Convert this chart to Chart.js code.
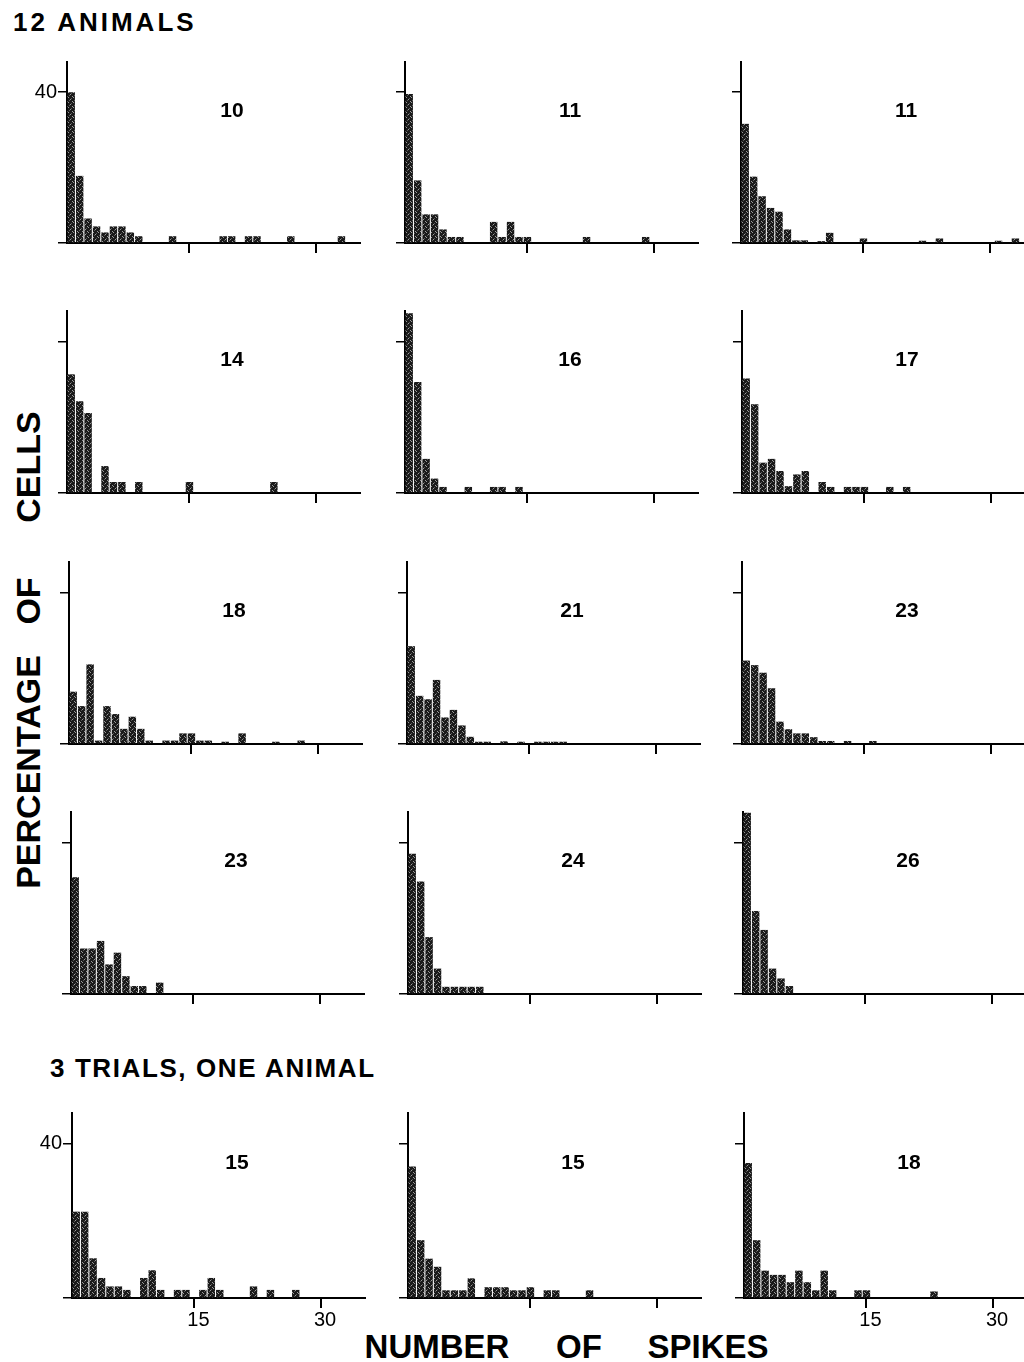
<!DOCTYPE html>
<html>
<head>
<meta charset="utf-8">
<script src="https://cdn.jsdelivr.net/npm/chart.js@4.4.1/dist/chart.umd.min.js"></script>
<style>
  html, body { margin: 0; padding: 0; background: #fff; }
  body { width: 1024px; height: 1362px; position: relative; overflow: hidden;
         font-family: "Liberation Sans", Arial, sans-serif; color: #000; }
  canvas { position: absolute; }
  .head { position: absolute; font-weight: bold; font-size: 26px;
          white-space: nowrap; line-height: 1; transform: translateY(-50%); }
  .word { position: absolute; font-weight: bold; font-size: 33px; white-space: nowrap; line-height: 1; }
  .vert { transform: translate(-50%, -50%) rotate(-90deg); font-size: 34px; }
  .horz { transform: translate(-50%, -50%); }
</style>
</head>
<body>
<div class="head" style="left:13px; top:22px; letter-spacing:3px">12 ANIMALS</div>
<div class="head" style="left:50px; top:1068px; letter-spacing:1.6px">3 TRIALS, ONE ANIMAL</div>

<div class="word vert" style="left:28px; top:772px">PERCENTAGE</div>
<div class="word vert" style="left:28px; top:601px">OF</div>
<div class="word vert" style="left:28px; top:467px">CELLS</div>

<div class="word horz" style="left:437px; top:1346px">NUMBER</div>
<div class="word horz" style="left:579px; top:1346px">OF</div>
<div class="word horz" style="left:708px; top:1346px">SPIKES</div>

<script>
// number of spikes per cell (bin), 1..35
const spikeCounts = [1, 2, 3, 4, 5, 6, 7, 8, 9, 10, 11, 12, 13, 14, 15, 16, 17, 18, 19, 20,
  21, 22, 23, 24, 25, 26, 27, 28, 29, 30, 31, 32, 33, 34, 35];

// percentage of cells, 12 animals
const animals10 = [40, 17.8, 6.5, 4.4, 2.8, 4.4, 4.4, 2.8, 1.8, 0,
  0, 0, 1.8, 0, 0, 0, 0, 0, 1.8, 1.8,
  0, 1.8, 1.8, 0, 0, 0, 1.8, 0, 0, 0,
  0, 0, 1.8, 0, 0];
const animals11a = [39.5, 16.6, 7.6, 7.6, 3.6, 1.6, 1.6, 0, 0, 0,
  5.6, 1.6, 5.6, 1.6, 1.6, 0, 0, 0, 0, 0,
  0, 1.6, 0, 0, 0, 0, 0, 0, 1.6, 0,
  0, 0, 0, 0, 0];
const animals11b = [31.6, 17.6, 12.4, 9.3, 8.3, 3.6, 0.7, 0.7, 0, 0.5,
  2.7, 0, 0, 0, 1.2, 0, 0, 0, 0, 0,
  0, 0.6, 0, 1.2, 0, 0, 0, 0, 0, 0,
  0.6, 0, 1.2, 0, 0];
const animals14 = [31.3, 24.2, 21.1, 0, 7.1, 2.9, 2.9, 0, 2.9, 0,
  0, 0, 0, 0, 2.9, 0, 0, 0, 0, 0,
  0, 0, 0, 0, 2.9, 0, 0, 0, 0, 0,
  0, 0, 0, 0, 0];
const animals16 = [47.4, 29.3, 9.0, 3.8, 1.6, 0, 0, 1.6, 0, 0,
  1.6, 1.6, 0, 1.6, 0, 0, 0, 0, 0, 0,
  0, 0, 0, 0, 0, 0, 0, 0, 0, 0,
  0, 0, 0, 0, 0];
const animals17 = [30.2, 23.4, 8.0, 9.0, 5.8, 1.8, 4.9, 5.8, 0, 2.9,
  1.6, 0, 1.6, 1.6, 1.6, 0, 0, 1.6, 0, 1.6,
  0, 0, 0, 0, 0, 0, 0, 0, 0, 0,
  0, 0, 0, 0, 0];
const animals18 = [13.8, 10.0, 21.0, 0.9, 10.0, 7.9, 4.0, 7.2, 4.0, 0.9,
  0, 0.9, 0.9, 2.8, 2.8, 0.9, 0.9, 0, 0.6, 0,
  2.8, 0, 0, 0, 0.6, 0, 0, 0.9, 0, 0,
  0, 0, 0, 0, 0];
const animals21 = [25.8, 12.7, 11.8, 16.9, 7.0, 9.0, 4.9, 1.9, 0.6, 0.6,
  0, 0.7, 0, 0.6, 0, 0.6, 0.6, 0.6, 0.6, 0,
  0, 0, 0, 0, 0, 0, 0, 0, 0, 0,
  0, 0, 0, 0, 0];
const animals23a = [22.0, 20.8, 18.8, 14.7, 5.9, 3.9, 2.8, 2.8, 1.8, 0.8,
  0.8, 0, 0.8, 0, 0, 0.8, 0, 0, 0, 0,
  0, 0, 0, 0, 0, 0, 0, 0, 0, 0,
  0, 0, 0, 0, 0];
const animals23b = [30.8, 12.0, 12.0, 14.0, 7.8, 10.9, 4.7, 2.1, 2.1, 0,
  3.0, 0, 0, 0, 0, 0, 0, 0, 0, 0,
  0, 0, 0, 0, 0, 0, 0, 0, 0, 0,
  0, 0, 0, 0, 0];
const animals24 = [37.0, 29.7, 15.0, 6.7, 1.9, 1.9, 1.9, 1.9, 1.9, 0,
  0, 0, 0, 0, 0, 0, 0, 0, 0, 0,
  0, 0, 0, 0, 0, 0, 0, 0, 0, 0,
  0, 0, 0, 0, 0];
const animals26 = [47.8, 21.9, 16.9, 6.7, 4.1, 2.1, 0, 0, 0, 0,
  0, 0, 0, 0, 0, 0, 0, 0, 0, 0,
  0, 0, 0, 0, 0, 0, 0, 0, 0, 0,
  0, 0, 0, 0, 0];

// percentage of cells, 3 trials in one animal
const trial15a = [22.4, 22.4, 10.3, 5.2, 3.0, 3.0, 2.1, 0, 5.2, 7.2,
  2.1, 0, 2.1, 2.1, 0, 2.1, 5.2, 2.1, 0, 0,
  0, 3.0, 0, 2.1, 0, 0, 2.1, 0, 0, 0,
  0, 0, 0, 0, 0];
const trial15b = [34.1, 15.0, 10.2, 8.1, 2.0, 2.0, 2.0, 5.1, 0, 2.8,
  2.8, 2.8, 2.0, 2.0, 2.8, 0, 2.0, 2.0, 0, 0,
  0, 2.0, 0, 0, 0, 0, 0, 0, 0, 0,
  0, 0, 0, 0, 0];
const trial18 = [35.0, 15.0, 7.1, 6.0, 6.0, 4.1, 7.1, 4.1, 2.0, 7.1,
  2.0, 0, 0, 2.0, 2.0, 0, 0, 0, 0, 0,
  0, 0, 1.7, 0, 0, 0, 0, 0, 0, 0,
  0, 0, 0, 0, 0];

const panelLabels = ["10", "11", "11", "14", "16", "17", "18", "21", "23", "23", "24", "26", "15", "15", "18"];
const panelValues = [animals10, animals11a, animals11b, animals14, animals16, animals17,
  animals18, animals21, animals23a, animals23b, animals24, animals26, trial15a, trial15b, trial18];
const xTickValues = [15, 30];
const yTickValues = [0, 40];

// layout (pixels)
const axisX = [
  [67, 405, 741],
  [67, 405, 742],
  [69, 407, 742],
  [71, 408, 743],
  [72, 408, 744]
];
const rowBaseline = [243, 493, 744, 994, 1298];
const rowHeight = [181, 182, 182, 182, 185];
const Y_MAX = 48;
const X_MIN = 0.5, X_MAX = 35.2;
const PLOT_W = 293;
const LEFT_GUTTER = 40, TOP_PAD = 20, BOTTOM_GUTTER = 34, RIGHT_PAD = 2;
const FONT = '"Liberation Sans", Arial, sans-serif';

function makeStipple() {
  const c = document.createElement("canvas");
  c.width = 5; c.height = 5;
  const g = c.getContext("2d");
  g.fillStyle = "#1a1a1a";
  g.fillRect(0, 0, 5, 5);
  g.fillStyle = "#9a9a9a";
  g.fillRect(1, 0, 1, 1);
  g.fillRect(3, 2, 1, 1);
  g.fillRect(0, 4, 1, 1);
  g.fillStyle = "#5a5a5a";
  g.fillRect(4, 1, 1, 1);
  g.fillRect(2, 3, 1, 1);
  return g.createPattern(c, "repeat");
}
const stipple = makeStipple();

const panelNumber = {
  id: "panelNumber",
  afterDraw(chart, args, opts) {
    const { ctx, chartArea, scales } = chart;
    ctx.save();
    ctx.font = "bold 21px " + FONT;
    ctx.fillStyle = "#000";
    ctx.textAlign = "center";
    ctx.textBaseline = "middle";
    ctx.fillText(opts.text, chartArea.left + 165, scales.y.getPixelForValue(40) + 19);
    ctx.restore();
  }
};

panelValues.forEach(function (values, i) {
  const row = Math.floor(i / 3);
  const col = i % 3;
  const showY = col === 0 && (row === 0 || row === 4);
  const showX = row === 4 && col !== 1;

  const canvas = document.createElement("canvas");
  canvas.width = LEFT_GUTTER + PLOT_W + RIGHT_PAD;
  canvas.height = TOP_PAD + rowHeight[row] + BOTTOM_GUTTER;
  canvas.style.left = (axisX[row][col] - LEFT_GUTTER) + "px";
  canvas.style.top = (rowBaseline[row] - rowHeight[row] - TOP_PAD) + "px";
  document.body.appendChild(canvas);

  new Chart(canvas, {
    type: "bar",
    data: {
      datasets: [{
        data: spikeCounts.map((x, j) => ({ x: x, y: values[j] })),
        backgroundColor: stipple,
        borderWidth: 0,
        barPercentage: 0.88,
        categoryPercentage: 1
      }]
    },
    options: {
      responsive: false,
      animation: false,
      events: [],
      layout: { padding: { top: TOP_PAD, right: RIGHT_PAD, left: 0, bottom: 0 } },
      plugins: {
        legend: { display: false },
        tooltip: { enabled: false },
        panelNumber: { text: panelLabels[i] }
      },
      scales: {
        x: {
          type: "linear",
          offset: false,
          min: X_MIN,
          max: X_MAX,
          afterBuildTicks: (s) => { s.ticks = xTickValues.map((v) => ({ value: v })); },
          afterFit: (s) => { s.height = BOTTOM_GUTTER; },
          grid: { offset: false, drawOnChartArea: false, drawTicks: true, tickLength: 10, color: "#000", lineWidth: 2 },
          border: { display: true, color: "#000", width: 2 },
          ticks: {
            autoSkip: false, maxRotation: 0, padding: 0, labelOffset: 4, color: "#000",
            font: { size: 20, family: FONT },
            callback: (v) => (showX ? String(v) : "")
          }
        },
        y: {
          min: 0,
          max: Y_MAX,
          afterBuildTicks: (s) => { s.ticks = yTickValues.map((v) => ({ value: v })); },
          afterFit: (s) => { s.width = LEFT_GUTTER; },
          grid: { drawOnChartArea: false, drawTicks: true, tickLength: 9, color: "#000", lineWidth: 1.5 },
          border: { display: true, color: "#000", width: 2 },
          ticks: {
            padding: 1, color: "#000",
            font: { size: 20, family: FONT },
            callback: (v) => (showY && v === 40 ? "40" : "")
          }
        }
      }
    },
    plugins: [panelNumber]
  });
});
</script>
</body>
</html>
